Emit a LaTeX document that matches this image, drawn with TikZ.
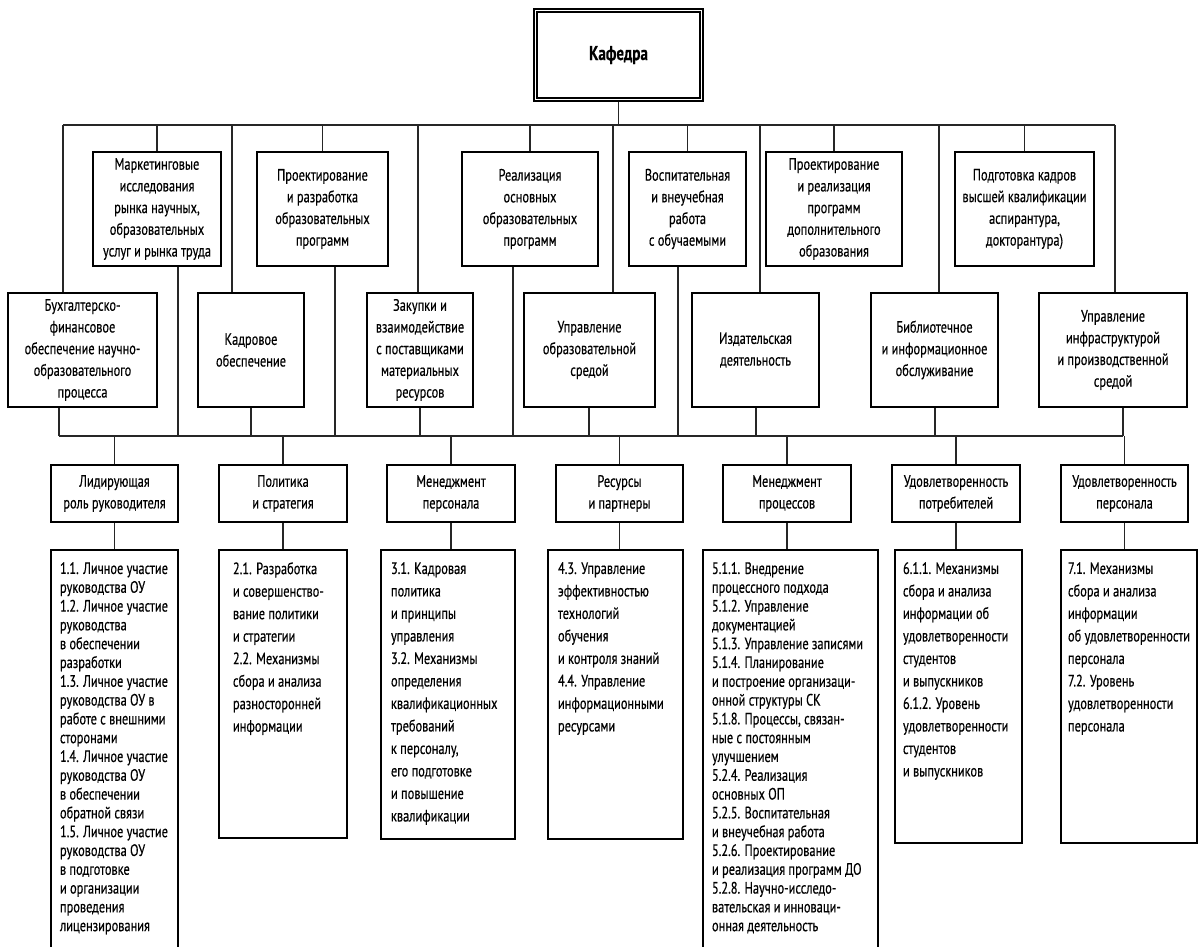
\documentclass[tikz,border=0pt]{standalone}
\usepackage{fontspec}
\setmainfont{PT Sans}[FakeStretch=0.75, FakeBold=0.4]
\usetikzlibrary{positioning}

\newcommand{\boxfont}{\fontsize{16.5}{21.7}\selectfont}
\newcommand{\listbody}[3]{\parbox[c][#1pt][t]{#2pt}{\raggedright #3}}

\tikzset{
  unit/.style={draw, line width=2.4pt, align=center, inner sep=1pt, font=\boxfont},
  upper/.style={unit, minimum height=114},
  crit/.style={unit, minimum height=57},
  listbox/.style={draw, line width=2.4pt, anchor=north, inner xsep=9pt, inner ysep=12pt, font=\fontsize{16.5}{22.5}\selectfont},
  longlist/.style={listbox, font=\fontsize{16.5}{18.8}\selectfont},
  link/.style={line width=1.2pt, black!85}
}

\begin{document}
\begin{tikzpicture}[x=1pt, y=-1pt]
\useasboundingbox (0,0) rectangle (1198,946);

\node[unit, line width=2.7pt, minimum width=169, minimum height=92, font=\fontsize{20}{22}\selectfont\bfseries] (kaf) at (618.5,55) {Кафедра};
\draw[line width=1.6pt] ([shift={(4.5,4.5)}]kaf.north west) rectangle ([shift={(-4.5,-4.5)}]kaf.south east);

\coordinate (bus1) at (0,125);
\coordinate (bus1w) at (63,125);
\coordinate (bus1e) at (1115,125);
\coordinate (bus2) at (0,436);
\coordinate (bus2w) at (59,436);
\coordinate (bus2e) at (1123,436);

\node[upper, minimum width=128] (u1) at (157,209) {Маркетинговые\\исследования\\рынка научных,\\образовательных\\услуг и рынка труда};
\node[upper, minimum width=131] (u2) at (322.5,209) {Проектирование\\и разработка\\образовательных\\программ};
\node[upper, minimum width=136] (u3) at (530,209) {Реализация\\основных\\образовательных\\программ};
\node[upper, minimum width=117] (u4) at (687.5,209) {Воспитательная\\и внеучебная\\работа\\с обучаемыми};
\node[upper, minimum width=136] (u5) at (834,209) {Проектирование\\и реализация\\программ\\дополнительного\\образования};
\node[upper, minimum width=139] (u6) at (1024.5,209) {Подготовка кадров\\высшей квалификации\\аспирантура,\\докторантура)};

\node[upper, minimum width=149] (b1) at (82.5,350) {Бухгалтерско-\\финансовое\\обеспечение научно-\\образовательного\\процесса};
\node[upper, minimum width=106] (b2) at (251,350) {Кадровое\\обеспечение};
\node[upper, minimum width=106] (b3) at (420,350) {Закупки и\\взаимодействие\\с поставщиками\\материальных\\ресурсов};
\node[upper, minimum width=131] (b4) at (589.5,350) {Управление\\образовательной\\средой};
\node[upper, minimum width=127] (b5) at (755.5,350) {Издательская\\деятельность};
\node[upper, minimum width=127] (b6) at (934.5,350) {Библиотечное\\и информационное\\обслуживание};
\node[upper, minimum width=148] (b7) at (1113,350) {Управление\\инфраструктурой\\и производственной\\средой};

\node[crit, minimum width=127] (h1) at (114.5,493.5) {Лидирующая\\роль руководителя};
\node[crit, minimum width=128] (h2) at (283,493.5) {Политика\\и стратегия};
\node[crit, minimum width=128] (h3) at (451,493.5) {Менеджмент\\персонала};
\node[crit, minimum width=127] (h4) at (619.5,493.5) {Ресурсы\\и партнеры};
\node[crit, minimum width=128] (h5) at (787,493.5) {Менеджмент\\процессов};
\node[crit, minimum width=128] (h6) at (956,493.5) {Удовлетворенность\\потребителей};
\node[crit, minimum width=127] (h7) at (1124.5,493.5) {Удовлетворенность\\персонала};

\node[longlist] (l1) at (114.5,549) {\listbody{377}{109}{1.1. Личное участие\\руководства ОУ\\1.2. Личное участие\\руководства\\в обеспечении\\разработки\\1.3. Личное участие\\руководства ОУ в\\работе с внешними\\сторонами\\1.4. Личное участие\\руководства ОУ\\в обеспечении\\обратной связи\\1.5. Личное участие\\руководства ОУ\\в подготовке\\и организации\\проведения\\лицензирования}};
\node[listbox, inner xsep=14pt] (l2) at (283,549) {\listbody{264}{100}{2.1. Разработка\\и совершенство-\\вание политики\\и стратегии\\2.2. Механизмы\\сбора и анализа\\разносторонней\\информации}};
\node[listbox, inner xsep=10pt] (l3) at (448,549) {\listbody{265}{114}{3.1. Кадровая\\политика\\и принципы\\управления\\3.2. Механизмы\\определения\\квалификационных\\требований\\к персоналу,\\его подготовке\\и повышение\\квалификации}};
\node[listbox, inner xsep=10pt] (l4) at (615.5,549) {\listbody{265}{115}{4.3. Управление\\эффективностью\\технологий\\обучения\\и контроля знаний\\4.4. Управление\\информационными\\ресурсами}};
\node[longlist] (l5) at (790.5,549) {\listbody{377}{157}{5.1.1. Внедрение\\процессного подхода\\5.1.2. Управление\\документацией\\5.1.3. Управление записями\\5.1.4. Планирование\\и построение организаци-\\онной структуры СК\\5.1.8. Процессы, связан-\\ные с постоянным\\улучшением\\5.2.4. Реализация\\основных ОП\\5.2.5. Воспитательная\\и внеучебная работа\\5.2.6. Проектирование\\и реализация программ ДО\\5.2.8. Научно-исследо-\\вательская и инноваци-\\онная деятельность}};
\node[listbox, inner xsep=8pt] (l6) at (958.5,549) {\listbody{269}{111}{6.1.1. Механизмы\\сбора и анализа\\информации об\\удовлетворенности\\студентов\\и выпускников\\6.1.2. Уровень\\удовлетворенности\\студентов\\и выпускников}};
\node[listbox, inner xsep=7pt] (l7) at (1129,549) {\listbody{269}{122}{7.1. Механизмы\\сбора и анализа\\информации\\об удовлетворенности\\персонала\\7.2. Уровень\\удовлетворенности\\персонала}};

\draw[link] (bus1w) -- (bus1e);
\draw[link] (bus2w) -- (bus2e);
\draw[link] (kaf.south) -- (kaf.south |- bus1);
\foreach \n in {u1,u2,u3,u4,u5,u6}
  \draw[link] (\n.north) -- (\n.north |- bus1);
\foreach \x/\n in {178/u1, 335/u2, 513/u3, 678/u4}
  \draw[link] (\x,0 |- \n.south) -- (\x,0 |- bus2);
\foreach \x/\n in {63/b1, 232/b2, 418/b3, 613/b4, 760/b5, 939/b6, 1115/b7}
  \draw[link] (\x,0 |- \n.north) -- (\x,0 |- bus1);
\foreach \x/\n in {59/b1, 251/b2, 420/b3, 589/b4, 756/b5, 935/b6, 1123/b7}
  \draw[link] (\x,0 |- \n.south) -- (\x,0 |- bus2);
\foreach \i in {1,...,7} {
  \draw[link] (h\i.north) -- (h\i.north |- bus2);
  \draw[link] (h\i.south) -- (h\i.south |- l\i.north);
}
\end{tikzpicture}
\end{document}
